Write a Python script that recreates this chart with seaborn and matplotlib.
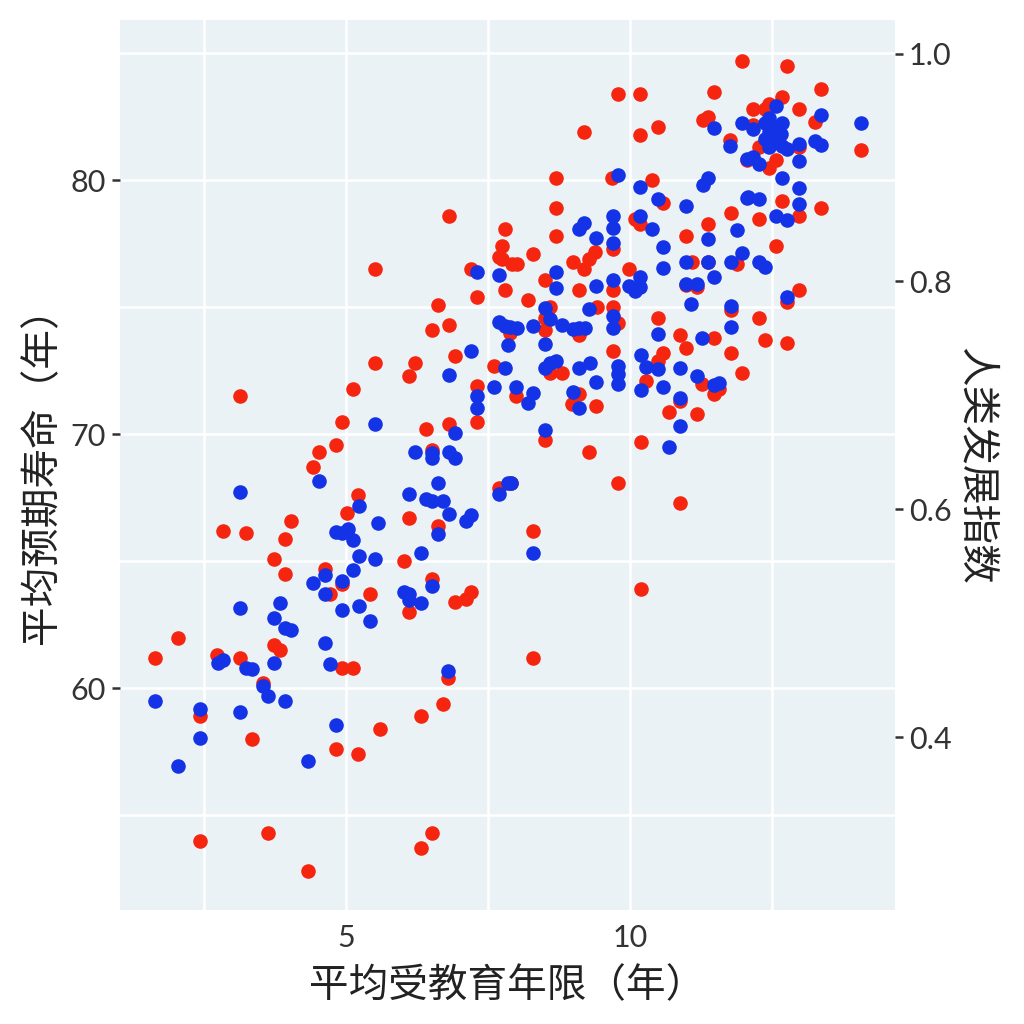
import matplotlib
matplotlib.use("Agg")
import matplotlib.pyplot as plt
import seaborn as sns
import pandas as pd
from matplotlib.ticker import FixedLocator

# 红点：平均受教育年限 vs 平均预期寿命
red_school = [2.83, 3.24, 4.03, 3.93, 5.02, 3.73, 3.93, 4.63, 4.72, 4.93, 5.42, 2.04, 1.64, 2.73,
              3.13, 3.73, 3.84, 4.93, 5.12, 3.54, 2.43, 3.35, 4.82, 5.21, 5.6, 2.43, 3.63, 4.33,
              5.51, 7.2, 7.69, 7.8, 7.31, 6.62, 6.51, 6.81, 6.92, 5.51, 6.21, 6.11, 7.61, 5.12,
              7.31, 4.93, 7.31, 6.41, 6.81, 4.82, 4.52, 4.42, 6.51, 5.21, 6.11, 6.62, 6.02, 6.51,
              6.11, 6.92, 7.11, 7.2, 7.69, 6.81, 3.13, 11.97, 9.79, 10.18, 11.48, 9.19, 10.18,
              10.49, 11.29, 11.37, 11.76, 12.06, 8.7, 9.68, 10.39, 8.7, 10.58, 11.78, 11.37,
              10.09, 10.18, 7.8, 8.7, 10.99, 7.75, 8.29, 7.92, 8.01, 7.75, 9.38, 9.28, 9.0, 9.19,
              9.7, 9.98, 11.09, 11.37, 11.88, 8.5, 9.1, 9.7, 10.99, 11.18, 8.2, 8.59, 9.42, 9.7,
              10.49, 12.76, 13.36, 12.68, 12.17, 12.38, 12.46, 12.98, 13.27, 12.17, 12.27, 12.46,
              12.57, 12.98, 14.07, 12.68, 13.36, 12.27, 12.98, 12.57, 12.98, 12.76, 11.78, 12.27,
              8.5, 8.5, 9.1, 9.79, 9.7, 10.88, 10.99, 11.48, 11.78, 10.58, 10.49, 11.97, 10.28,
              11.27, 11.48, 11.58, 10.88, 10.69, 11.18, 8.59, 8.8, 7.99, 8.98, 9.1, 9.4, 8.5,
              9.28, 10.19, 9.79, 7.9, 10.88, 7.89, 12.38, 12.76, 8.29, 10.19, 8.29, 6.8, 6.71,
              6.32, 6.51, 6.32]
red_life = [66.2, 66.1, 66.6, 65.9, 66.9, 65.1, 64.5, 64.7, 63.7, 64.1, 63.7, 62.0, 61.2, 61.3,
            61.2, 61.7, 61.5, 60.8, 60.8, 60.2, 58.9, 58.0, 57.6, 57.4, 58.4, 54.0, 54.3, 52.8,
            76.5, 76.5, 77.0, 75.7, 75.4, 75.1, 74.1, 74.3, 73.1, 72.8, 72.8, 72.3, 72.7, 71.8,
            71.9, 70.5, 70.5, 70.2, 70.4, 69.6, 69.3, 68.7, 69.4, 67.6, 66.7, 66.4, 65.0, 64.3,
            63.0, 63.4, 63.5, 63.8, 67.9, 78.6, 71.5, 84.7, 83.4, 83.4, 83.5, 81.9, 81.8,
            82.1, 82.4, 82.5, 81.6, 80.8, 80.1, 80.1, 80.0, 78.9, 79.1, 78.7, 78.3,
            78.5, 78.3, 78.1, 77.8, 77.8, 77.4, 77.1, 76.7, 76.7, 76.9, 77.2, 76.9, 76.8, 76.5,
            77.3, 76.5, 76.8, 76.8, 76.7, 76.1, 75.7, 75.7, 75.9, 75.8, 75.3, 75.0, 75.0, 75.0,
            74.6, 84.5, 83.6, 83.3, 82.8, 82.8, 83.0, 82.8, 82.3, 82.2, 81.3, 80.5,
            80.8, 81.3, 81.2, 79.2, 78.9, 78.5, 78.6, 77.4, 75.7, 75.2, 74.9, 74.6,
            74.6, 74.1, 73.9, 74.4, 73.3, 73.9, 73.4, 73.8, 73.2, 73.2, 72.9, 72.4, 72.1,
            72.0, 71.6, 71.8, 71.3, 70.9, 70.8, 72.4, 72.4, 71.5, 71.2, 71.6, 71.1, 69.8,
            69.3, 69.7, 68.1, 68.1, 67.3, 74.0, 73.7, 73.6, 66.2, 63.9, 61.2, 60.4, 59.4,
            58.9, 54.3, 53.7]

# 蓝点：平均受教育年限 vs 人类发展指数
blue_school = [5.23, 4.82, 4.93, 5.04, 5.12, 5.56, 5.23, 5.51, 5.12, 4.63, 4.42, 4.93, 4.63, 3.84,
               3.13, 3.73, 3.93, 4.03, 4.93, 5.23, 5.42, 4.63, 4.72, 3.73, 2.75, 2.83, 3.24, 3.35,
               3.54, 3.63, 3.93, 1.64, 2.43, 3.13, 2.43, 2.04, 4.33, 4.82, 7.31, 7.69, 7.69, 7.8,
               7.85, 7.2, 6.81, 7.8, 7.61, 7.31, 7.31, 5.51, 6.92, 6.21, 6.51, 6.51, 6.81, 6.92,
               4.52, 6.62, 6.11, 6.41, 6.51, 6.71, 6.81, 7.11, 7.2, 7.69, 7.85, 6.62, 6.32, 6.02,
               6.11, 6.11, 6.32, 6.51, 3.13, 9.79, 10.18, 10.49, 10.99, 11.29, 11.37, 11.48,
               11.97, 11.76, 12.06, 12.06, 9.7, 9.7, 9.19, 9.1, 10.18, 10.39, 9.4, 9.7, 11.88,
               11.37, 10.58, 11.97, 10.99, 11.37, 11.78, 10.58, 11.48, 8.7, 8.7, 9.4, 9.7, 9.98,
               10.09, 10.18, 10.18, 10.99, 11.18, 11.07, 11.78, 8.5, 9.28, 9.7, 12.57, 12.17,
               12.38, 12.46, 12.55, 12.68, 13.36, 14.07, 12.38, 12.46, 12.57, 12.68, 12.76, 12.98,
               13.27, 13.36, 12.17, 12.27, 12.98, 12.68, 12.98, 12.98, 12.08, 12.27, 12.57, 12.76,
               12.27, 12.38, 12.76, 12.46, 12.66, 9.7, 7.89, 8.01, 8.29, 8.59, 8.8, 9.0, 9.1,
               9.21, 8.5, 8.5, 8.59, 8.7, 9.1, 9.3, 9.4, 9.79, 9.79, 9.79, 7.99, 8.29, 8.2, 9.0,
               9.1, 8.5, 11.78, 10.49, 11.27, 10.19, 10.28, 10.49, 10.88, 11.18, 11.48, 11.58,
               10.19, 10.58, 10.88, 10.88, 10.69, 7.9, 8.29, 6.8]
blue_hdi = [0.603, 0.580, 0.579, 0.583, 0.573, 0.588, 0.559, 0.556, 0.547, 0.542, 0.535, 0.537,
            0.526, 0.518, 0.513, 0.505, 0.496, 0.494, 0.512, 0.515, 0.502, 0.483, 0.464, 0.465,
            0.465, 0.468, 0.461, 0.460, 0.445, 0.436, 0.432, 0.432, 0.425, 0.422, 0.399, 0.375,
            0.379, 0.411, 0.808, 0.806, 0.764, 0.761, 0.744, 0.739, 0.718, 0.724, 0.707, 0.699,
            0.689, 0.675, 0.667, 0.650, 0.649, 0.645, 0.650, 0.645, 0.625, 0.623, 0.613, 0.609,
            0.607, 0.607, 0.596, 0.590, 0.595, 0.613, 0.623, 0.578, 0.562, 0.527, 0.526, 0.520,
            0.518, 0.533, 0.615, 0.893, 0.883, 0.872, 0.866, 0.885, 0.891, 0.935, 0.939, 0.919,
            0.907, 0.873, 0.857, 0.847, 0.851, 0.846, 0.857, 0.846, 0.838, 0.834, 0.845, 0.837,
            0.830, 0.825, 0.817, 0.817, 0.817, 0.812, 0.804, 0.808, 0.794, 0.796, 0.801, 0.796,
            0.792, 0.804, 0.795, 0.798, 0.798, 0.780, 0.778, 0.777, 0.776, 0.770, 0.954, 0.934,
            0.939, 0.943, 0.935, 0.939, 0.946, 0.939, 0.925, 0.918, 0.922, 0.919, 0.916, 0.921,
            0.923, 0.920, 0.909, 0.903, 0.906, 0.891, 0.882, 0.868, 0.874, 0.872, 0.857, 0.854,
            0.817, 0.813, 0.786, 0.931, 0.929, 0.759, 0.760, 0.759, 0.761, 0.767, 0.762, 0.758,
            0.759, 0.759, 0.745, 0.724, 0.728, 0.730, 0.724, 0.728, 0.712, 0.726, 0.719, 0.710,
            0.707, 0.702, 0.693, 0.703, 0.689, 0.670, 0.760, 0.754, 0.750, 0.735, 0.725, 0.723,
            0.724, 0.717, 0.709, 0.711, 0.705, 0.707, 0.698, 0.673, 0.655, 0.623, 0.562, 0.458]

red_df = pd.DataFrame({"school": red_school, "life": red_life})
blue_df = pd.DataFrame({"school": blue_school, "hdi": blue_hdi})

sns.set_style("white")
plt.rcParams['font.family'] = ['Lato', 'Noto Sans CJK SC', 'DejaVu Sans']
cjk = ['Noto Sans CJK SC', 'DejaVu Sans']

bg = "#EAF2F6"
red = "#F5250F"
blue = "#1432E6"
tick_col = "#333333"

fig = plt.figure(figsize=(10.24, 10.24), dpi=100)
ax = fig.add_axes([0.117, 0.111, 0.757, 0.869])
ax.set_facecolor(bg)

sns.scatterplot(data=red_df, x="school", y="life", ax=ax, color=red, s=110,
                linewidth=0, zorder=3)
ax.set_xlim(1.02, 14.67)
ax.set_ylim(51.26, 86.3)
ax.xaxis.set_major_locator(FixedLocator([5, 10]))
ax.xaxis.set_minor_locator(FixedLocator([2.5, 7.5, 12.5]))
ax.yaxis.set_major_locator(FixedLocator([60, 70, 80]))
ax.yaxis.set_minor_locator(FixedLocator([55, 65, 75, 85]))
ax.grid(True, which="both", color="white", linewidth=1.8, zorder=0)
ax.set_axisbelow(True)
for s in ax.spines.values():
    s.set_visible(False)
ax.tick_params(axis="both", which="major", length=6, width=1.8, color="#333333",
               labelsize=22, labelcolor=tick_col, pad=4)
ax.tick_params(axis="both", which="minor", length=0)
ax.set_xlabel("平均受教育年限（年）", fontsize=28.5, family=cjk, color="#222222", labelpad=10)
ax.set_ylabel("平均预期寿命（年）", fontsize=28.5, family=cjk, color="#222222", labelpad=6)

ax2 = ax.twinx()
ax2.patch.set_visible(False)
sns.scatterplot(data=blue_df, x="school", y="hdi", ax=ax2, color=blue, s=110,
                linewidth=0, zorder=3)
ax2.set_ylim(0.248, 1.029)
ax2.yaxis.set_major_locator(FixedLocator([0.4, 0.6, 0.8, 1.0]))
ax2.set_yticklabels(["0.4", "0.6", "0.8", "1.0"])
for s in ax2.spines.values():
    s.set_visible(False)
ax2.tick_params(axis="y", length=6, width=1.8, color="#333333", labelsize=22,
                labelcolor=tick_col, pad=4)
ax2.set_ylabel("人类发展指数", fontsize=28.5, family=cjk, color="#222222",
               rotation=270, labelpad=32)
ax2.set_xlabel("")

fig.savefig("out.png", dpi=100, facecolor="white")
